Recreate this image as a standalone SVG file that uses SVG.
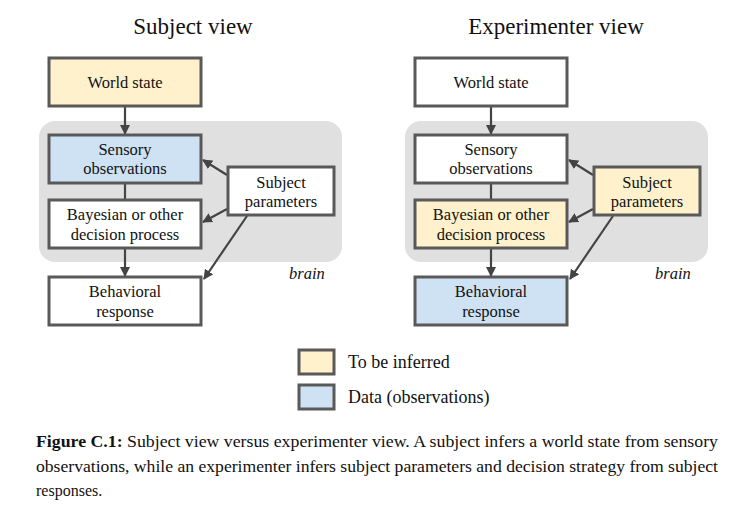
<svg xmlns="http://www.w3.org/2000/svg" width="733" height="520" viewBox="0 0 733 520">
<defs>
<marker id="ah" viewBox="0 0 10 10" refX="9" refY="5" markerWidth="10" markerHeight="10" markerUnits="userSpaceOnUse" orient="auto">
<path d="M0,0 L10,5 L0,10 z" fill="#444"/>
</marker>
<style>
.box{stroke:#595959;stroke-width:3;fill:#fff}
.yel{fill:#fff1cc}
.blu{fill:#cfe2f3}
.bg{fill:#e0e0e0}
.t{font-family:"Liberation Serif","DejaVu Serif",serif;font-size:16.5px;fill:#111;text-anchor:middle}
.ttl{font-family:"Liberation Serif","DejaVu Serif",serif;font-size:23px;fill:#111;text-anchor:middle}
.br{font-family:"Liberation Serif","DejaVu Serif",serif;font-size:16.5px;font-style:italic;fill:#111;text-anchor:middle}
.lg{font-family:"Liberation Serif","DejaVu Serif",serif;font-size:18px;fill:#111}
.cap{font-family:"Liberation Serif","Times New Roman",serif;font-size:16px;fill:#111}
.c{stroke:#444;stroke-width:2.2;fill:none}
</style>
</defs>
<rect width="733" height="520" fill="#fff"/>

<text class="ttl" x="193" y="34">Subject view</text>
<text class="ttl" x="556" y="34">Experimenter view</text>

<g id="brain-left"><rect class="bg" x="39" y="121" width="303" height="141" rx="16"/><text class="br" x="307" y="279">brain</text></g>
<g id="brain-right"><rect class="bg" x="405" y="121" width="303" height="141" rx="16"/><text class="br" x="673" y="279">brain</text></g>

<g id="connectors">
<line class="c" x1="125" y1="106" x2="125" y2="134" marker-end="url(#ah)"/>
<line class="c" x1="125" y1="183" x2="125" y2="200"/>
<line class="c" x1="125" y1="248" x2="125" y2="276" marker-end="url(#ah)"/>
<line class="c" x1="227" y1="175" x2="203" y2="160" marker-end="url(#ah)"/>
<line class="c" x1="227" y1="209" x2="203" y2="222" marker-end="url(#ah)"/>
<line class="c" x1="247" y1="216" x2="204" y2="279" marker-end="url(#ah)"/>
<line class="c" x1="491" y1="106" x2="491" y2="134" marker-end="url(#ah)"/>
<line class="c" x1="491" y1="183" x2="491" y2="200"/>
<line class="c" x1="491" y1="248" x2="491" y2="276" marker-end="url(#ah)"/>
<line class="c" x1="593" y1="175" x2="569" y2="160" marker-end="url(#ah)"/>
<line class="c" x1="593" y1="209" x2="569" y2="222" marker-end="url(#ah)"/>
<line class="c" x1="613" y1="216" x2="570" y2="279" marker-end="url(#ah)"/>
</g>

<g id="l-world"><rect class="box yel" x="49" y="58" width="152" height="48"/><text class="t" x="125" y="88">World state</text></g>
<g id="l-sensory"><rect class="box blu" x="49" y="135" width="152" height="48"/><text class="t" x="125" y="155">Sensory</text><text class="t" x="125" y="174">observations</text></g>
<g id="l-bayes"><rect class="box" x="49" y="200" width="152" height="48"/><text class="t" x="125" y="220">Bayesian or other</text><text class="t" x="125" y="240">decision process</text></g>
<g id="l-behav"><rect class="box" x="49" y="277" width="152" height="48"/><text class="t" x="125" y="297">Behavioral</text><text class="t" x="125" y="317">response</text></g>
<g id="l-params"><rect class="box" x="228" y="167" width="106" height="48"/><text class="t" x="281" y="188">Subject</text><text class="t" x="281" y="207">parameters</text></g>

<g id="r-world"><rect class="box" x="415" y="58" width="152" height="48"/><text class="t" x="491" y="88">World state</text></g>
<g id="r-sensory"><rect class="box" x="415" y="135" width="152" height="48"/><text class="t" x="491" y="155">Sensory</text><text class="t" x="491" y="174">observations</text></g>
<g id="r-bayes"><rect class="box yel" x="415" y="200" width="152" height="48"/><text class="t" x="491" y="220">Bayesian or other</text><text class="t" x="491" y="240">decision process</text></g>
<g id="r-behav"><rect class="box blu" x="415" y="277" width="152" height="48"/><text class="t" x="491" y="297">Behavioral</text><text class="t" x="491" y="317">response</text></g>
<g id="r-params"><rect class="box yel" x="594" y="167" width="106" height="48"/><text class="t" x="647" y="188">Subject</text><text class="t" x="647" y="207">parameters</text></g>

<g id="legend">
<rect class="box yel" x="299" y="350" width="35" height="24"/><text class="lg" x="348" y="368">To be inferred</text>
<rect class="box blu" x="299" y="385" width="35" height="24"/><text class="lg" x="348" y="403">Data (observations)</text>
</g>

<g id="caption">
<text class="cap" x="36" y="447" textLength="682" lengthAdjust="spacingAndGlyphs"><tspan font-weight="bold">Figure C.1:</tspan> Subject view versus experimenter view.  A subject infers a world state from sensory</text>
<text class="cap" x="36" y="472" textLength="682" lengthAdjust="spacingAndGlyphs">observations, while an experimenter infers subject parameters and decision strategy from subject</text>
<text class="cap" x="36" y="496">responses.</text>
</g>
</svg>
